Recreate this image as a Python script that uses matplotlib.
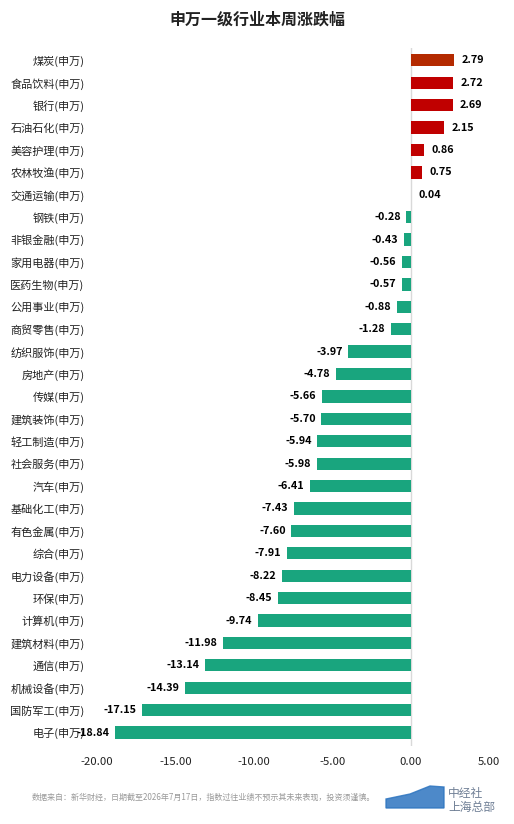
import matplotlib
matplotlib.use('Agg')
import matplotlib.pyplot as plt
from matplotlib.patches import Polygon

plt.rcParams['font.family'] = ['Noto Sans CJK SC', 'DejaVu Sans']

# 申万一级行业本周涨跌幅, 从上到下
industries = ['煤炭(申万)', '食品饮料(申万)', '银行(申万)', '石油石化(申万)', '美容护理(申万)',
              '农林牧渔(申万)', '交通运输(申万)', '钢铁(申万)', '非银金融(申万)', '家用电器(申万)',
              '医药生物(申万)', '公用事业(申万)', '商贸零售(申万)', '纺织服饰(申万)', '房地产(申万)',
              '传媒(申万)', '建筑装饰(申万)', '轻工制造(申万)', '社会服务(申万)', '汽车(申万)',
              '基础化工(申万)', '有色金属(申万)', '综合(申万)', '电力设备(申万)', '环保(申万)',
              '计算机(申万)', '建筑材料(申万)', '通信(申万)', '机械设备(申万)', '国防军工(申万)',
              '电子(申万)']
changes = [2.79, 2.72, 2.69, 2.15, 0.86, 0.75, 0.04, -0.28, -0.43, -0.56,
           -0.57, -0.88, -1.28, -3.97, -4.78, -5.66, -5.70, -5.94, -5.98, -6.41,
           -7.43, -7.60, -7.91, -8.22, -8.45, -9.74, -11.98, -13.14, -14.39, -17.15,
           -18.84]
x_ticks = [-20, -15, -10, -5, 0, 5]

red = '#C00000'
top_red = '#B42A00'
green = '#19A57E'

fig = plt.figure(figsize=(5.14, 8.24), dpi=100)
ax = fig.add_axes([97 / 514, 1 - 746 / 824, 392 / 514, 698 / 824])

n = len(changes)
ypos = list(range(n))
colors = []
for i, v in enumerate(changes):
    if v >= 0:
        colors.append(top_red if i == 0 else red)
    else:
        colors.append(green)
ax.barh(ypos, changes, height=0.55, color=colors, zorder=2)
ax.set_ylim(n - 0.4, -0.55)
ax.set_xlim(-20, 5)

ax.axvline(0, color='#D9D9D9', lw=1, zorder=1)

for y, v in zip(ypos, changes):
    if v >= 0:
        ax.text(v + 0.45, y, f'{v:.2f}', ha='left', va='center',
                fontsize=7.8, fontweight='bold', color='black')
    else:
        ax.text(v - 0.35, y, f'{v:.2f}', ha='right', va='center',
                fontsize=7.8, fontweight='bold', color='black')

ax.set_yticks(ypos)
ax.set_yticklabels(industries, fontsize=8, color='#222222')
ax.set_xticks(x_ticks)
ax.set_xticklabels([f'{t:.2f}' for t in x_ticks], fontsize=8.2, color='#222222')
ax.tick_params(axis='both', length=0)
ax.tick_params(axis='y', pad=9)
ax.tick_params(axis='x', pad=8)
for s in ax.spines.values():
    s.set_visible(False)

fig.text(0.5, 1 - 20 / 824, '申万一级行业本周涨跌幅', ha='center', va='center',
         fontsize=11.5, fontweight='bold', color='#222222')

fig.text(32 / 514, 1 - 797 / 824,
         '数据来自：新华财经，日期截至2026年7月17日，指数过往业绩不预示其未来表现，投资须谨慎。',
         ha='left', va='center', fontsize=5.8, color='#999999')

# logo
logo = Polygon([(386 / 514, 1 - 808 / 824), (386 / 514, 1 - 799 / 824),
                (410 / 514, 1 - 794 / 824), (430 / 514, 1 - 786 / 824),
                (444 / 514, 1 - 787 / 824), (444 / 514, 1 - 808 / 824)],
               closed=True, transform=fig.transFigure, color='#2E75C0', alpha=0.85)
fig.patches.append(logo)
fig.text(448 / 514, 1 - 794 / 824, '中经社', ha='left', va='center',
         fontsize=8.5, color='#6F7F95')
fig.text(448 / 514, 1 - 807 / 824, '上海总部', ha='left', va='center',
         fontsize=8.5, color='#6F7F95')

fig.savefig('out.png', dpi=100, facecolor='white')
